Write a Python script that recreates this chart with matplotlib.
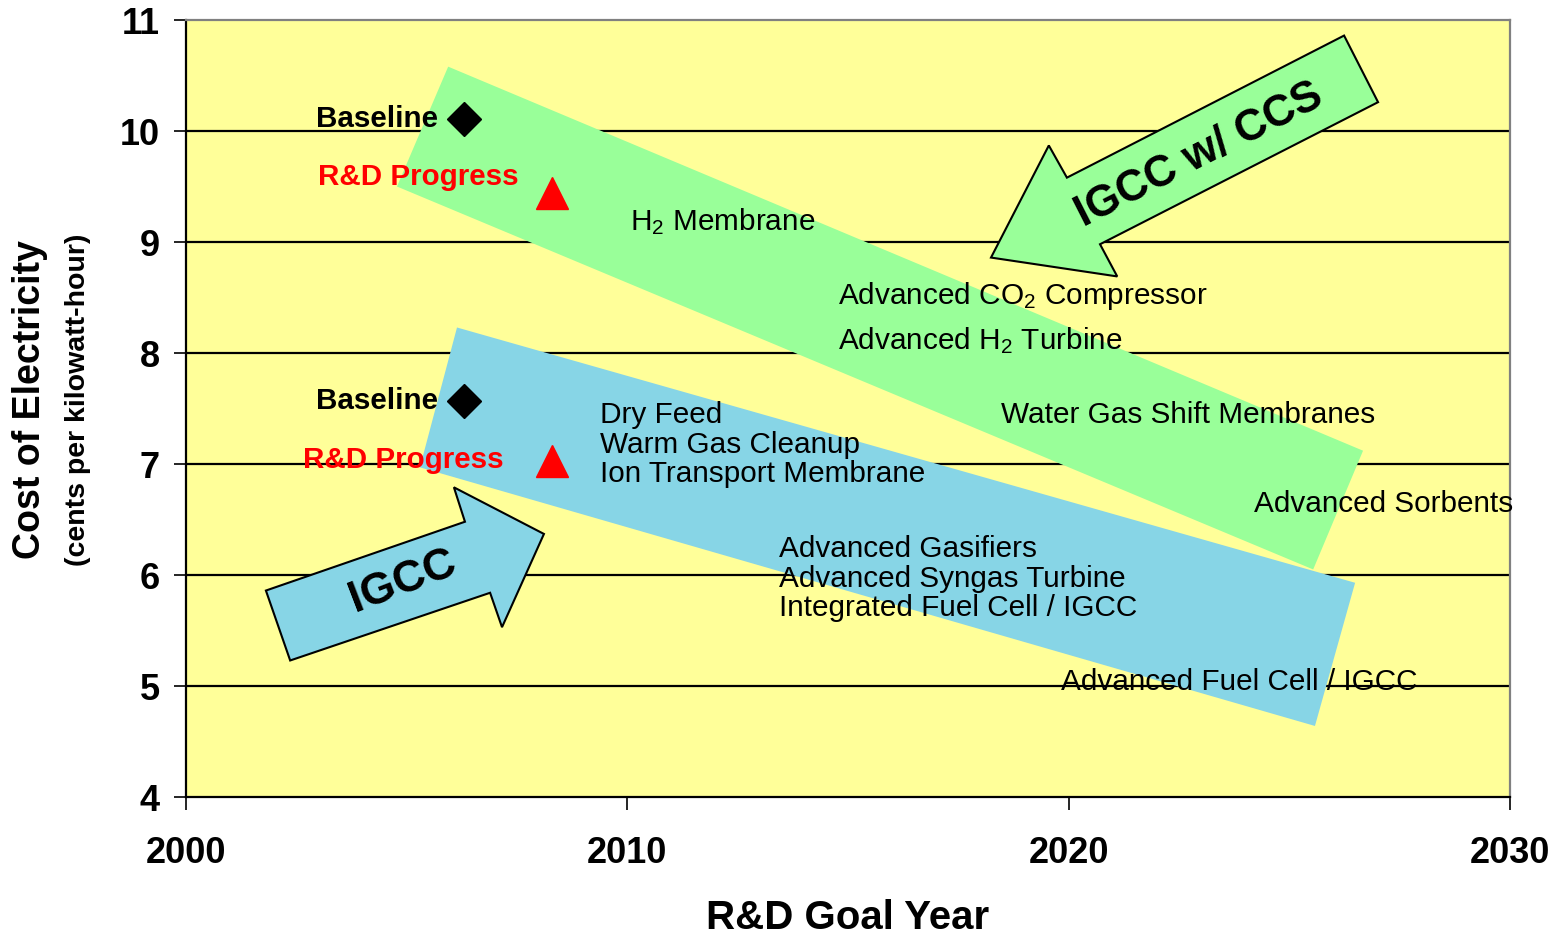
"""IGCC / IGCC w/ CCS cost of electricity vs R&D goal year."""

import matplotlib as mpl
import matplotlib.pyplot as plt
from matplotlib.patches import Polygon

mpl.rcParams.update({
    "font.family": ["Liberation Sans", "DejaVu Sans"],
    "mathtext.fontset": "custom",
    "mathtext.rm": "Liberation Sans",
    "mathtext.it": "Liberation Sans",
    "mathtext.bf": "Liberation Sans:bold",
})

# ── data ─────────────────────────────────────────────────────────
x_ticks = [2000, 2010, 2020, 2030]
y_ticks = [4, 5, 6, 7, 8, 9, 10, 11]

# markers: (year, cost)
baseline_year = [2006.3, 2006.3]
baseline_cost = [10.11, 7.57]
progress_year = [2008.3, 2008.3]
progress_cost = [9.44, 7.03]

# band outlines (year, cost)
ccs_band_x = [2005.94, 2026.67, 2025.54, 2004.78]
ccs_band_y = [10.58, 7.12, 6.05, 9.50]
igcc_band_x = [2006.14, 2026.49, 2025.58, 2005.30]
igcc_band_y = [8.23, 5.93, 4.64, 6.97]

# block arrows (year, cost)
igcc_arrow_x = [2001.81, 2006.32, 2006.07, 2008.11, 2007.16, 2006.89, 2002.36]
igcc_arrow_y = [5.86, 6.48, 6.79, 6.37, 5.53, 5.84, 5.23]
ccs_arrow_x = [2026.24, 2027.01, 2020.71, 2021.10, 2018.24, 2019.55, 2019.96]
ccs_arrow_y = [10.86, 10.26, 8.98, 8.69, 8.86, 9.87, 9.58]

# technology labels: (text, year, cost)
tech_labels = [
    ("H$_2$ Membrane", 2010.06, 9.18),
    ("Advanced CO$_2$ Compressor", 2014.77, 8.51),
    ("Advanced H$_2$ Turbine", 2014.77, 8.11),
    ("Water Gas Shift Membranes", 2018.47, 7.44),
    ("Advanced Sorbents", 2024.20, 6.64),
    ("Dry Feed", 2009.38, 7.44),
    ("Warm Gas Cleanup", 2009.38, 7.17),
    ("Ion Transport Membrane", 2009.38, 6.91),
    ("Advanced Gasifiers", 2013.44, 6.23),
    ("Advanced Syngas Turbine", 2013.44, 5.96),
    ("Integrated Fuel Cell / IGCC", 2013.44, 5.70),
    ("Advanced Fuel Cell / IGCC", 2019.83, 5.04),
]

YELLOW = "#FFFF99"
GREEN = "#99FF99"
BLUE = "#87D5E6"

# ── plot ─────────────────────────────────────────────────────────
fig = plt.figure(figsize=(15.58, 9.36), dpi=100)
ax = fig.add_axes([0.1194, 0.1485, 0.9692 - 0.1194, 0.9786 - 0.1485])
ax.set_facecolor(YELLOW)
ax.set_xlim(x_ticks[0], x_ticks[-1])
ax.set_ylim(y_ticks[0], y_ticks[-1])

ax.hlines(y_ticks[1:-1], x_ticks[0], x_ticks[-1], color="black", lw=1.6, zorder=1)

ax.add_patch(Polygon(list(zip(ccs_band_x, ccs_band_y)), closed=True,
                     facecolor=GREEN, edgecolor="none", zorder=2))
ax.add_patch(Polygon(list(zip(igcc_band_x, igcc_band_y)), closed=True,
                     facecolor=BLUE, edgecolor="none", zorder=2))
ax.add_patch(Polygon(list(zip(igcc_arrow_x, igcc_arrow_y)), closed=True,
                     facecolor=BLUE, edgecolor="black", lw=1.5, zorder=2))
ax.add_patch(Polygon(list(zip(ccs_arrow_x, ccs_arrow_y)), closed=True,
                     facecolor=GREEN, edgecolor="black", lw=1.5, zorder=2))

ax.plot(baseline_year, baseline_cost, "D", color="black", ms=17, zorder=4,
        clip_on=False)
ax.plot(progress_year, progress_cost, "^", color="#FF0000", ms=23, zorder=4,
        clip_on=False)

for yb in baseline_cost:
    ax.text(2005.72, yb, "Baseline", ha="right", va="center",
            fontsize=21.3, fontweight="bold", color="black", zorder=3)
ax.text(2002.99, progress_cost[0] + 0.15, "R&D Progress", ha="left", va="center",
        fontsize=21.3, fontweight="bold", color="#FF0000", zorder=3)
ax.text(2002.65, progress_cost[1] + 0.01, "R&D Progress", ha="left", va="center",
        fontsize=21.3, fontweight="bold", color="#FF0000", zorder=3)

for label, xx, yy in tech_labels:
    ax.text(xx, yy, label, ha="left", va="center", fontsize=21.4,
            color="black", zorder=3)

ax.text(2004.92, 5.94, "IGCC", rotation=21, ha="center", va="center",
        fontsize=32, fontweight="bold", zorder=3, rotation_mode="anchor")
ax.text(2022.96, 9.78, "IGCC w/ CCS", rotation=27, ha="center", va="center",
        fontsize=31.5, fontweight="bold", zorder=3, rotation_mode="anchor")

# axes styling
ax.set_xticks(x_ticks)
ax.set_yticks(y_ticks)
ax.tick_params(axis="x", direction="out", length=9, width=1.2, pad=19,
               labelsize=26)
ax.tick_params(axis="y", direction="out", length=9, width=1.2, pad=10,
               labelsize=26)
for lab in ax.get_xticklabels() + ax.get_yticklabels():
    lab.set_fontweight("bold")
for side in ("left", "bottom"):
    ax.spines[side].set_color("black")
    ax.spines[side].set_linewidth(1.6)
for side in ("top", "right"):
    ax.spines[side].set_color("#808080")
    ax.spines[side].set_linewidth(1.6)

ax.set_xlabel("R&D Goal Year", fontsize=29, fontweight="bold", labelpad=20)
fig.text(0.019, 0.573, "Cost of Electricity", rotation=90, ha="center",
         va="center", fontsize=27, fontweight="bold")
fig.text(0.050, 0.573, "(cents per kilowatt-hour)", rotation=90, ha="center",
         va="center", fontsize=20.5, fontweight="bold")

fig.savefig("out.png", dpi=100)
